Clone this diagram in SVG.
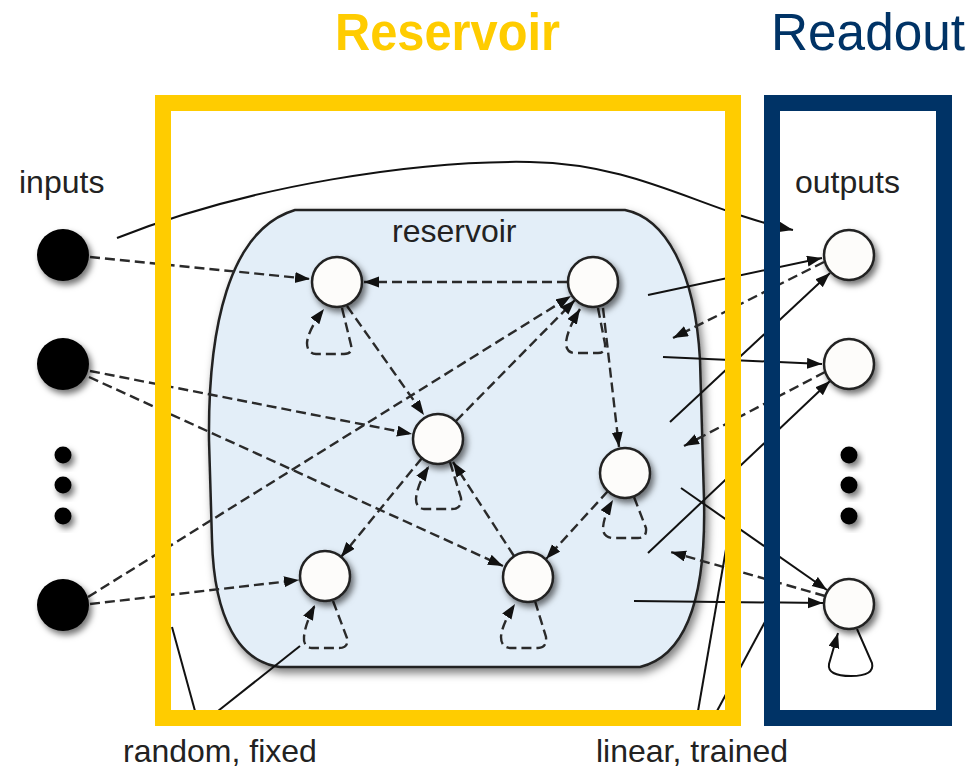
<svg xmlns="http://www.w3.org/2000/svg" width="974" height="771" viewBox="0 0 974 771">
<style>
.lbl{font-family:"Liberation Sans",Arial,sans-serif;font-size:32px;fill:#222}
.ttl{font-family:"Liberation Sans",Arial,sans-serif;font-size:51px}
.dash{fill:none;stroke:#2a2a2a;stroke-width:2.4;stroke-dasharray:10 5}
.solid{fill:none;stroke:#111;stroke-width:2}
.node{fill:#fdfcfa;stroke:#222;stroke-width:2.5}
.inp{fill:#000}
</style>
<defs>
<filter id="sh" x="-50%" y="-50%" width="200%" height="200%">
<feDropShadow dx="3" dy="4" stdDeviation="3" flood-color="#000" flood-opacity="0.55"/>
</filter>
<filter id="shb" x="-10%" y="-10%" width="120%" height="120%">
<feDropShadow dx="3" dy="5" stdDeviation="4" flood-color="#000" flood-opacity="0.5"/>
</filter>
<marker id="ah" markerUnits="userSpaceOnUse" markerWidth="16" markerHeight="12" refX="15" refY="5.5" orient="auto">
<path d="M0,0 L15,5.5 L0,11 z" fill="#111"/>
</marker>
</defs>
<rect width="974" height="771" fill="#fff"/>

<g id="reservoir-blob">
<path d="M 295 210 L 625 210 C 665 218 695 270 700 360 L 704 500 C 706 590 690 655 640 667 L 280 667 C 240 662 214 620 212 540 L 209 440 C 208 330 228 230 295 210 Z" fill="#e3eef8" stroke="#222" stroke-width="2.5" filter="url(#shb)"/>
<text class="lbl" x="392" y="242">reservoir</text>
</g>

<g id="connectors">
<path class="dash" d="M 90 257 L 310 279" marker-end="url(#ah)"/>
<path class="dash" d="M 567 282 L 364 282" marker-end="url(#ah)"/>
<path class="dash" d="M 347 306 L 424 415" marker-end="url(#ah)"/>
<path class="dash" d="M 90 371 L 412 434" marker-end="url(#ah)"/>
<path class="dash" d="M 89 377 L 503 566" marker-end="url(#ah)"/>
<path class="dash" d="M 88 597 L 571 296" marker-end="url(#ah)"/>
<path class="dash" d="M 90 604 L 299 580" marker-end="url(#ah)"/>
<path class="dash" d="M 456 421 L 575 300" marker-end="url(#ah)"/>
<path class="dash" d="M 422 458 L 341 557" marker-end="url(#ah)"/>
<path class="dash" d="M 603 308 L 619 447" marker-end="url(#ah)"/>
<path class="dash" d="M 608 491 L 546 559" marker-end="url(#ah)"/>
<path class="dash" d="M 514 556 L 453 462" marker-end="url(#ah)"/>
<path class="dash" d="M 342 308 L 351 345 Q 353 354 344 354 L 316 354 Q 307 353 307 343 Q 308 330 324 309" marker-end="url(#ah)"/>
<path class="dash" d="M 598 308 L 605 344 Q 606 353 598 353 L 574 353 Q 566 352 566 343 Q 567 330 580 309" marker-end="url(#ah)"/>
<path class="dash" d="M 450 462 L 461 498 Q 462 509 452 509 L 424 509 Q 416 508 416 499 Q 417 485 429 466" marker-end="url(#ah)"/>
<path class="dash" d="M 634 497 L 646 528 Q 647 538 638 538 L 612 538 Q 603 537 603 528 Q 604 515 613 500" marker-end="url(#ah)"/>
<path class="dash" d="M 535 601 L 546 637 Q 547 648 538 648 L 510 648 Q 501 647 501 637 Q 502 624 515 604" marker-end="url(#ah)"/>
<path class="dash" d="M 333 601 L 347 638 Q 349 648 339 648 L 312 648 Q 303 647 304 637 Q 305 624 315 605" marker-end="url(#ah)"/>
<path class="dash" d="M 824 262 L 673 338" marker-end="url(#ah)"/>
<path class="dash" d="M 825 372 L 684 446" marker-end="url(#ah)"/>
<path class="dash" d="M 825 596 L 671 552" marker-end="url(#ah)"/>
<path class="solid" d="M 117 238 C 250 185 420 160 530 162 S 700 210 793 230" marker-end="url(#ah)"/>
<path class="solid" d="M 648 295 L 822 258" marker-end="url(#ah)"/>
<path class="solid" d="M 663 357 L 822 364" marker-end="url(#ah)"/>
<path class="solid" d="M 670 422 L 830 273" marker-end="url(#ah)"/>
<path class="solid" d="M 648 553 L 830 381" marker-end="url(#ah)"/>
<path class="solid" d="M 681 488 L 827 590" marker-end="url(#ah)"/>
<path class="solid" d="M 634 601 L 823 603" marker-end="url(#ah)"/>
<path class="solid" d="M 857 629 L 872 663 Q 875 676 851 676 Q 827 676 829 664 L 838 633" marker-end="url(#ah)"/>
<path class="solid" d="M 172 627 L 195 711"/>
<path class="solid" d="M 218 711 L 300 646"/>
<path class="solid" d="M 698 711 L 729 532"/>
<path class="solid" d="M 717 711 L 766 620"/>
</g>

<g id="input1"><circle class="inp" cx="63" cy="255" r="26" filter="url(#sh)"/></g>
<g id="input2"><circle class="inp" cx="63" cy="364" r="26" filter="url(#sh)"/></g>
<g id="input-dots">
<circle class="inp" cx="63" cy="455" r="8.5" filter="url(#sh)"/>
<circle class="inp" cx="63" cy="485" r="8.5" filter="url(#sh)"/>
<circle class="inp" cx="63" cy="516" r="8.5" filter="url(#sh)"/>
</g>
<g id="input3"><circle class="inp" cx="63" cy="605" r="26" filter="url(#sh)"/></g>
<g id="inputs-label"><text class="lbl" x="19" y="193">inputs</text></g>

<g id="nodeA"><circle class="node" cx="337" cy="282" r="25" filter="url(#sh)"/></g>
<g id="nodeB"><circle class="node" cx="593" cy="282" r="25" filter="url(#sh)"/></g>
<g id="nodeC"><circle class="node" cx="438" cy="439" r="25" filter="url(#sh)"/></g>
<g id="nodeD"><circle class="node" cx="625" cy="473" r="25" filter="url(#sh)"/></g>
<g id="nodeE"><circle class="node" cx="325" cy="576" r="25" filter="url(#sh)"/></g>
<g id="nodeF"><circle class="node" cx="528" cy="577" r="25" filter="url(#sh)"/></g>

<g id="output1"><circle class="node" cx="849" cy="255" r="25" filter="url(#sh)"/></g>
<g id="output2"><circle class="node" cx="849" cy="364" r="25" filter="url(#sh)"/></g>
<g id="output-dots">
<circle class="inp" cx="849" cy="455" r="8.5" filter="url(#sh)"/>
<circle class="inp" cx="849" cy="485" r="8.5" filter="url(#sh)"/>
<circle class="inp" cx="849" cy="516" r="8.5" filter="url(#sh)"/>
</g>
<g id="output3"><circle class="node" cx="849" cy="604" r="25" filter="url(#sh)"/></g>
<g id="outputs-label"><text class="lbl" x="795" y="193">outputs</text></g>

<g id="reservoir-frame">
<rect x="163" y="103" width="570" height="615" fill="none" stroke="#ffcc00" stroke-width="16"/>
<text class="ttl" x="335" y="50" font-weight="bold" fill="#ffcc00" textLength="225" lengthAdjust="spacingAndGlyphs">Reservoir</text>
</g>
<g id="readout-frame">
<rect x="772" y="103" width="172" height="615" fill="none" stroke="#003366" stroke-width="16"/>
<text class="ttl" x="771" y="50" fill="#003366" textLength="194" lengthAdjust="spacingAndGlyphs">Readout</text>
</g>

<g id="bottom-labels">
<text class="lbl" x="123" y="762">random, fixed</text>
<text class="lbl" x="596" y="762">linear, trained</text>
</g>
</svg>
